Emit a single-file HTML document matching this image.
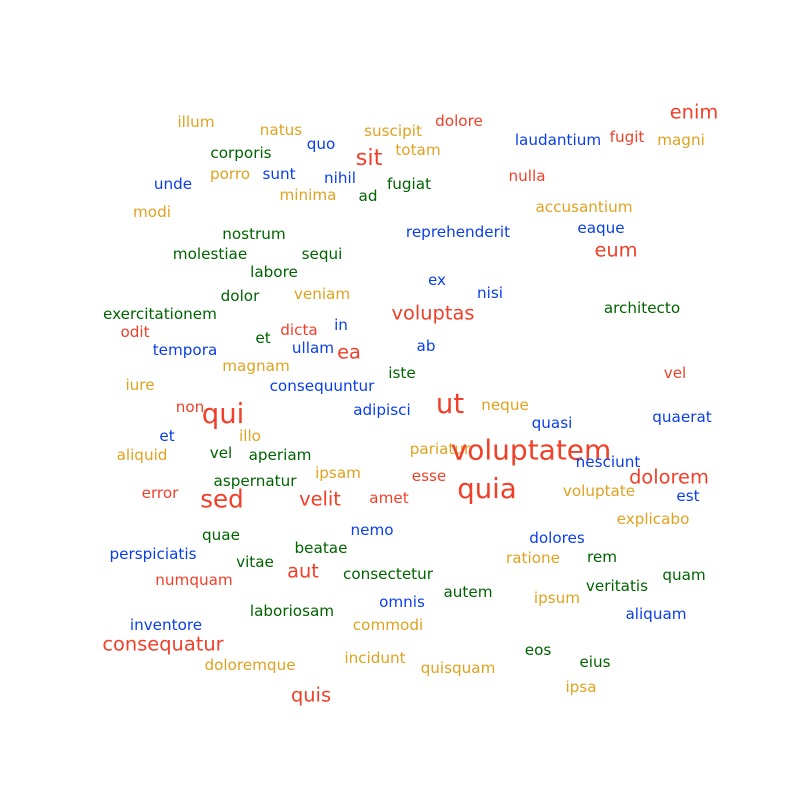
<!DOCTYPE html>
<html><head><meta charset="utf-8"><style>
html,body{margin:0;padding:0;background:#fff;}
svg{display:block;}
text{font-family:"DejaVu Sans","Liberation Sans",sans-serif;text-anchor:middle;dominant-baseline:central;}
</style></head><body>
<svg id="cloud" width="800" height="800" viewBox="0 0 800 800"></svg>
<script>
const words=["illum","natus","quo","suscipit","dolore","enim","laudantium","fugit","magni","corporis","sit","totam","unde","porro","sunt","nihil","fugiat","nulla","minima","ad","modi","accusantium","nostrum","reprehenderit","eaque","eum","molestiae","sequi","labore","ex","nisi","dolor","veniam","architecto","exercitationem","voluptas","odit","dicta","in","et","ab","tempora","ullam","ea","magnam","iste","vel","iure","consequuntur","non","qui","ut","neque","adipisci","quasi","quaerat","et","illo","pariatur","voluptatem","vel","aperiam","aliquid","nesciunt","dolorem","ipsam","esse","aspernatur","quia","voluptate","error","sed","velit","amet","est","explicabo","nemo","quae","dolores","beatae","perspiciatis","vitae","ratione","rem","aut","consectetur","numquam","quam","veritatis","autem","ipsum","omnis","laboriosam","aliquam","inventore","commodi","consequatur","eos","eius","doloremque","incidunt","quisquam","ipsa","quis"];
const wx=[196,281,321,393,459,694,558,627,681,241,369,418,173,230,279,340,409,527,308,368,152,584,254,458,601,616,210,322,274,437,490,240,322,642,160,433,135,299,341,263,426,185,313,349,256,402,675,140,322,190,223,450,505,382,552,682,167,250,440,531,221,280,142,608,669,338,429,255,487,599,160,222,320,389,688,653,372,221,557,321,153,255,533,602,303,388,194,684,617,468,557,402,292,656,166,388,163,538,595,250,375,458,581,311];
const wy=[122,130,144,131,121,112,140,137,140,153,158,150,184,174,174,178,184,176,195,196,212,207,234,232,228,250,254,254,272,280,293,296,294,308,314,313,332,330,325,338,346,350,348,352,366,373,373,385,386,407,414,404,405,410,423,417,436,436,449,450,453,455,455,462,477,473,476,481,489,491,493,499,499,498,496,519,530,535,538,548,554,562,558,557,571,574,580,575,586,592,598,602,611,614,625,625,644,650,662,665,658,668,687,695];
const weight=[1,1,1,1,1,2,1,1,1,1,2.4,1,1,1,1,1,1,1,1,1,1,1,1,1,1,2,1,1,1,1,1,1,1,1,1,2,1,1,1,1,1,1,1,2,1,1,1,1,1,1,3.2,3.2,1,1,1,1,1,1,1,3.4,1,1,1,1,2,1,1,1,3.2,1,1,2.8,2,1,1,1,1,1,1,1,1,1,1,1,2,1,1,1,1,1,1,1,1,1,1,1,2,1,1,1,1,1,1,2];
const group=["o","o","b","o","r","r","b","r","o","g","r","o","b","o","b","b","g","r","o","g","o","o","g","b","b","r","g","g","g","b","b","g","o","g","g","r","r","r","b","g","b","b","b","r","o","g","r","o","b","r","r","r","o","b","b","b","b","o","o","r","g","g","o","b","r","o","r","g","r","o","r","r","r","r","b","o","b","g","b","g","b","g","o","g","r","g","r","g","g","g","o","b","g","b","b","o","r","g","g","o","o","o","o","r"];
const palette={r:"#f0402a",o:"#e0a21f",b:"#0a3fe6",g:"#006400"};
const svg=document.getElementById('cloud');
for(let i=0;i<words.length;i++){
  const t=document.createElementNS('http://www.w3.org/2000/svg','text');
  
  
  t.setAttribute('x',wx[i]);
  t.setAttribute('y',wy[i]);
  const w=weight[i];
  const fs=w<=1?15.2:(w<=2?19.4:(w<=2.5?22.5:(w<=2.8?24.5:(w<=3.2?27.5:28))));
  t.setAttribute('font-size',fs);
  t.setAttribute('fill',palette[group[i]]);
  t.textContent=words[i];
  svg.appendChild(t);
}
</script>
</body></html>
